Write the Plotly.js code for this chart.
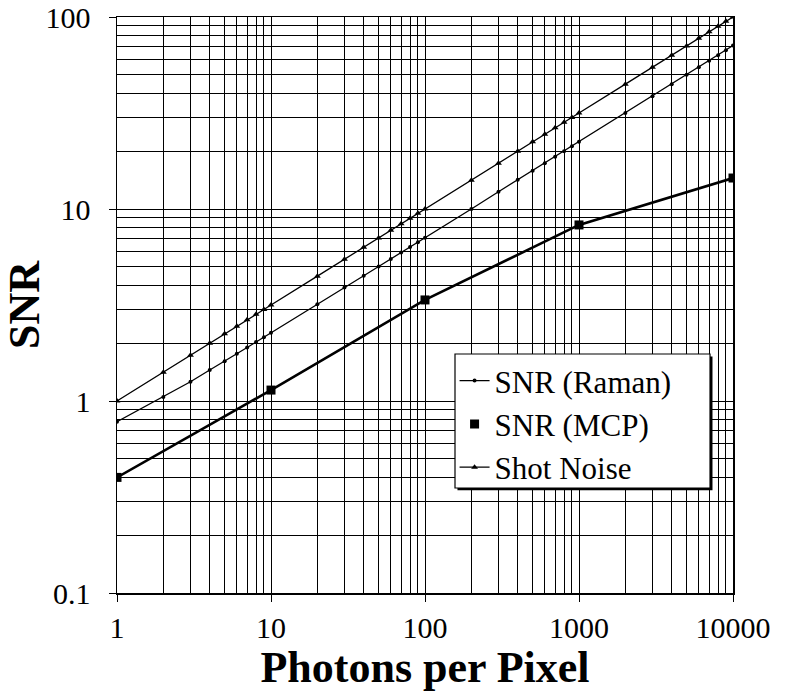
<!DOCTYPE html>
<html>
<head>
<meta charset="utf-8">
<script src="https://cdn.plot.ly/plotly-3.0.1.min.js"></script>
<style>html,body{margin:0;padding:0;background:#fff;}#chart{width:792px;height:700px;}</style>
</head>
<body>
<div id="chart"></div>
<script>
const photons = [1,2,3,4,5,6,7,8,9,10,20,30,40,50,60,70,80,90,100,200,300,400,500,600,700,800,900,1000,2000,3000,4000,5000,6000,7000,8000,9000,10000];
const snrRaman = [0.78,1.05,1.26,1.45,1.61,1.76,1.90,2.03,2.15,2.27,3.19,3.90,4.49,5.02,5.49,5.93,6.34,6.72,7.08,10.0,12.3,14.2,15.8,17.3,18.7,20.0,21.2,22.4,31.6,38.7,44.7,50.0,54.8,59.1,63.2,67.1,71.0];
const shotNoise = [1.0,1.41,1.73,2.0,2.24,2.45,2.65,2.83,3.0,3.16,4.47,5.48,6.32,7.07,7.75,8.37,8.94,9.49,10.0,14.1,17.3,20.0,22.4,24.5,26.5,28.3,30.0,31.6,44.7,54.8,63.2,70.7,77.5,83.7,89.4,94.9,100.0];
const mcpPhotons = [1,10,100,1000,10000];
const snrMCP = [0.40,1.14,3.36,8.26,14.5];
const tickVals = [1,10,100,1000,10000];
const tickText = ['1','10','100','1000','10000'];
const yTickVals = [0.1,1,10,100];
const yTickText = ['0.1','1','10','100'];

const serif = '"Liberation Serif"';

const traces = [
  {x: photons, y: snrRaman, name: 'SNR (Raman)', type: 'scatter', mode: 'lines+markers',
   line: {color: '#000', width: 1.3}, marker: {symbol: 'circle', size: 4, color: '#000'}},
  {x: mcpPhotons, y: snrMCP, name: 'SNR (MCP)', type: 'scatter', mode: 'lines',
   line: {color: '#000', width: 2.6}, showlegend: false, hoverinfo: 'skip'},
  {x: mcpPhotons, y: snrMCP, name: 'SNR (MCP)', type: 'scatter', mode: 'markers',
   marker: {symbol: 'square', size: 9, color: '#000'}},
  {x: photons, y: shotNoise, name: 'Shot Noise', type: 'scatter', mode: 'lines+markers',
   line: {color: '#000', width: 1.3}, marker: {symbol: 'triangle-up', size: 6, color: '#000'}}
];

const layout = {
  width: 792, height: 700,
  margin: {l: 117, r: 59, t: 17, b: 107},
  paper_bgcolor: '#fff', plot_bgcolor: '#fff',
  font: {family: serif, color: '#000'},
  showlegend: true,
  legend: {
    x: 0.548, y: 0.415, xanchor: 'left', yanchor: 'top',
    bgcolor: 'rgba(0,0,0,0)', borderwidth: 0,
    font: {family: serif, size: 31, color: '#000'},
    tracegroupgap: 0, itemwidth: 30
  },
  xaxis: {
    type: 'log', range: [0, 4],
    tickvals: tickVals, ticktext: tickText,
    ticks: 'outside', ticklen: 7, tickcolor: '#000',
    showline: true, linecolor: '#000', linewidth: 1.5, mirror: true,
    showgrid: true, gridcolor: '#000', gridwidth: 1,
    minor: {dtick: 'D1', showgrid: true, gridcolor: '#000', gridwidth: 1, ticks: ''},
    tickfont: {family: serif, size: 30, color: '#000'},
    title: {text: 'Photons per Pixel', font: {family: serif, size: 44, color: '#000', weight: 'bold'}, standoff: 8},
    zeroline: false
  },
  yaxis: {
    type: 'log', range: [-1, 2],
    tickvals: yTickVals, ticktext: yTickText,
    ticks: 'outside', ticklen: 7, tickcolor: '#000',
    ticklabelstandoff: 12,
    showline: true, linecolor: '#000', linewidth: 1.5, mirror: true,
    showgrid: true, gridcolor: '#000', gridwidth: 1,
    minor: {dtick: 'D1', showgrid: true, gridcolor: '#000', gridwidth: 1, ticks: ''},
    tickfont: {family: serif, size: 30, color: '#000'},
    title: {text: 'SNR', font: {family: serif, size: 44, color: '#000', weight: 'bold'}, standoff: 0},
    zeroline: false
  },
  shapes: [
    {type: 'rect', xref: 'paper', yref: 'paper', x0: 0.5527, x1: 0.9667, y0: 0.1783, y1: 0.4106,
     fillcolor: '#000', line: {width: 0}, layer: 'above'},
    {type: 'rect', xref: 'paper', yref: 'paper', x0: 0.5487, x1: 0.9627, y0: 0.1823, y1: 0.4149,
     fillcolor: '#fff', line: {color: '#000', width: 1.2}, layer: 'above'}
  ]
};

Plotly.newPlot('chart', traces, layout, {displayModeBar: false, staticPlot: true});
</script>
</body>
</html>
